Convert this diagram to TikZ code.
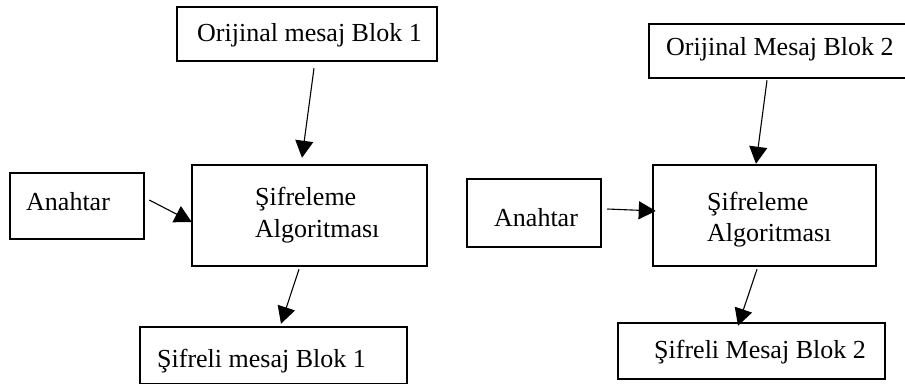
\documentclass[tikz,border=0pt]{standalone}
\usepackage{fontspec}
\setmainfont{Liberation Serif}
\usetikzlibrary{arrows.meta}
\begin{document}
\begin{tikzpicture}[x=1pt,y=-1pt,
  blockbox/.style={draw=black,line width=2.5pt,inner sep=0pt,rectangle},
  txt/.style={inner sep=0pt,anchor=base west,font=\fontsize{26}{30}\selectfont},
  arr/.style={draw=black,line width=1.1pt,-{Triangle[length=17pt,width=18pt]}}]
\useasboundingbox (0,0) rectangle (905,383);

% left chain: block 1
\node[blockbox,minimum width=260pt,minimum height=54pt] (o1) at (307,34) {};
\node[txt] (o1t) at (197,41) {Orijinal mesaj Blok 1};
\node[blockbox,minimum width=134pt,minimum height=66pt] (a1) at (77,206) {};
\node[txt] (a1t) at (26,210) {Anahtar};
\node[blockbox,minimum width=235pt,minimum height=101pt] (alg1) at (309.5,215.5) {};
\node[txt] (alg1a) at (255,205) {Şifreleme};
\node[txt] (alg1b) at (255,237) {Algoritması};
\node[blockbox,minimum width=267pt,minimum height=57pt] (s1) at (273.5,355.5) {};
\node[txt] (s1t) at (157,367) {Şifreli mesaj Blok 1};

\draw[arr] ([shift={(7,6)}]o1.south) -- ([shift={(-7.5,-6)}]alg1.north);
\draw[arr] ([shift={(4,-6)}]a1.east) -- ([shift={(1,6.5)}]alg1.west);
\draw[arr] ([shift={(-10.5,2)}]alg1.south) -- ([shift={(7.5,-2)}]s1.north);

% right chain: block 2
\node[blockbox,minimum width=262pt,minimum height=54pt] (o2) at (780,51) {};
\node[txt] (o2t) at (666,55) {Orijinal Mesaj Blok 2};
\node[blockbox,minimum width=134pt,minimum height=68pt] (a2) at (534,213) {};
\node[txt] (a2t) at (494,226) {Anahtar};
\node[blockbox,minimum width=223pt,minimum height=101pt] (alg2) at (764.5,215.5) {};
\node[txt] (alg2a) at (707,210) {Şifreleme};
\node[txt] (alg2b) at (707,241) {Algoritması};
\node[blockbox,minimum width=267pt,minimum height=56pt] (s2) at (751.5,351) {};
\node[txt] (s2t) at (654,358) {Şifreli Mesaj Blok 2};

\draw[arr] ([shift={(-13,1)}]o2.south) -- ([shift={(-8.5,0)}]alg2.north);
\draw[arr] ([shift={(5,-4)}]a2.east) -- ([shift={(4,-4.5)}]alg2.west);
\draw[arr] ([shift={(-7.5,2)}]alg2.south) -- ([shift={(-13.5,4)}]s2.north);
\end{tikzpicture}
\end{document}
